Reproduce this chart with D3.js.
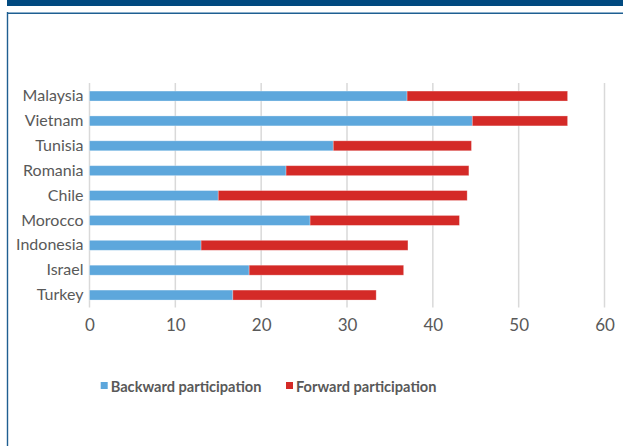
<!DOCTYPE html>
<html>
<head>
<meta charset="utf-8">
<script src="https://cdn.jsdelivr.net/npm/d3@7"></script>
<style>
  html, body { margin: 0; padding: 0; background: #fff; }
  svg { display: block; }
</style>
</head>
<body>
<svg id="chart" width="623" height="446"></svg>
<script>
const countries = ["Malaysia", "Vietnam", "Tunisia", "Romania", "Chile", "Morocco", "Indonesia", "Israel", "Turkey"];
const backward = [37.0, 44.6, 28.4, 22.9, 15.0, 25.7, 13.0, 18.6, 16.7];
const forward  = [18.7, 11.1, 16.1, 21.3, 29.0, 17.4, 24.1, 18.0, 16.7];
const xTicks = [0, 10, 20, 30, 40, 50, 60];
const seriesNames = ["Backward participation", "Forward participation"];
const colors = ["#5DA7DC", "#D42A27"];

const svg = d3.select("#chart");
const font = "Lato, 'Open Sans', sans-serif";

// Frame decoration
svg.append("rect").attr("x", 7).attr("y", 0).attr("width", 616).attr("height", 6).attr("fill", "#014A80");
svg.append("line").attr("x1", 7).attr("x2", 623).attr("y1", 12.5).attr("y2", 12.5).attr("stroke", "#8BAFCB").attr("stroke-width", 1);
svg.append("line").attr("x1", 7).attr("x2", 623).attr("y1", 13.5).attr("y2", 13.5).attr("stroke", "#1F5F91").attr("stroke-width", 1);
svg.append("line").attr("x1", 7.5).attr("x2", 7.5).attr("y1", 12).attr("y2", 446).attr("stroke", "#1F5F91").attr("stroke-width", 1.4);

const x = d3.scaleLinear().domain([0, 60]).range([89.5, 604.5]);
const y = d3.scaleBand().domain(countries).range([83.6, 307.5]).paddingInner(0.6).paddingOuter(0.3);

// Gridlines
svg.append("g").selectAll("line").data(xTicks).join("line")
  .attr("x1", d => x(d)).attr("x2", d => x(d))
  .attr("y1", 83).attr("y2", 307.5)
  .attr("stroke", "#D9D9D9").attr("stroke-width", 1.5);

// Stacked data
const rows = countries.map((c, i) => ({ country: c, backward: backward[i], forward: forward[i] }));
const stack = d3.stack().keys(["backward", "forward"])(rows);

svg.append("g").selectAll("g").data(stack).join("g")
  .attr("fill", (d, i) => colors[i])
  .selectAll("rect").data(d => d).join("rect")
  .attr("x", d => x(d[0]))
  .attr("width", d => x(d[1]) - x(d[0]))
  .attr("y", d => y(d.data.country))
  .attr("height", y.bandwidth())
  .attr("stroke", "rgba(255,255,255,0.35)")
  .attr("stroke-width", 0.8);

// Y axis labels
const yAxis = d3.axisLeft(y).tickSize(0).tickPadding(6);
const gy = svg.append("g").attr("transform", `translate(${x(0)},0)`).call(yAxis);
gy.select(".domain").remove();
gy.selectAll("text").attr("font-family", font).attr("font-size", 16).attr("fill", "#595959");

// X axis labels
const xAxis = d3.axisBottom(x).tickValues(xTicks).tickSize(0).tickPadding(11);
const gx = svg.append("g").attr("transform", `translate(0,307.5)`).call(xAxis);
gx.select(".domain").remove();
gx.selectAll("text").attr("font-family", font).attr("font-size", 17).attr("fill", "#595959");

// Legend
const legendX = [100.7, 286];
const lg = svg.append("g").selectAll("g").data(seriesNames).join("g")
  .attr("transform", (d, i) => `translate(${legendX[i]},0)`);
lg.append("rect").attr("x", 0).attr("y", 382).attr("width", 7).attr("height", 7).attr("fill", (d, i) => colors[i]);
lg.append("text").attr("x", 10).attr("y", 391.5)
  .attr("font-family", font).attr("font-size", 14.6).attr("font-weight", "bold").attr("fill", "#595959")
  .text(d => d);
</script>
</body>
</html>
